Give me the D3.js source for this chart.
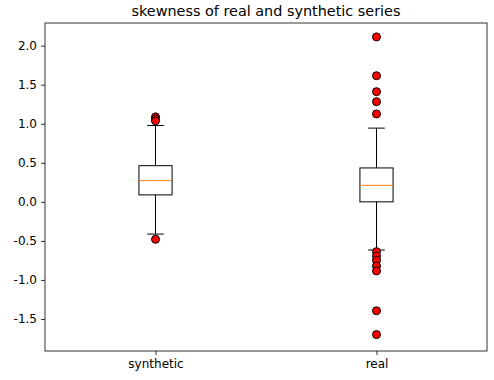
<!DOCTYPE html>
<html><head><meta charset="utf-8">
<script src="https://cdn.jsdelivr.net/npm/d3@7"></script>
<style>body{margin:0;background:#fff}svg{display:block}text{font-family:"DejaVu Sans",sans-serif}</style>
</head><body>
<script>
const categories = ["synthetic", "real"];
const q1 = [0.089, 0.0];
const medians = [0.272, 0.212];
const q3 = [0.463, 0.434];
const whiskerLow = [-0.413, -0.617];
const whiskerHigh = [0.977, 0.944];
const outliersSynthetic = [1.088, 1.063, 1.037, -0.48];
const outliersReal = [2.112, 1.615, 1.411, 1.283, 1.126, -0.638, -0.694, -0.749, -0.821, -0.885, -1.395, -1.70];
const outliers = [outliersSynthetic, outliersReal];
const yTicks = [-1.5, -1.0, -0.5, 0.0, 0.5, 1.0, 1.5, 2.0];
const title = "skewness of real and synthetic series";

const W = 494, H = 380;
const m = {left: 45, right: 7, top: 23, bottom: 29};
const svg = d3.select("body").append("svg").attr("width", W).attr("height", H);

const x = d3.scaleLinear().domain([0.5, 2.5]).range([m.left, W - m.right]);
const y = d3.scaleLinear().domain([-1.91, 2.29]).range([H - m.bottom, m.top]);

const boxW = x(0.15) - x(0);
const capW = boxW / 2;

const g = svg.append("g");

categories.forEach((c, i) => {
  const cx = x(i + 1);
  g.append("line").attr("x1", cx).attr("x2", cx).attr("y1", y(q3[i])).attr("y2", y(whiskerHigh[i]))
    .attr("stroke", "#000").attr("stroke-width", 1);
  g.append("line").attr("x1", cx).attr("x2", cx).attr("y1", y(q1[i])).attr("y2", y(whiskerLow[i]))
    .attr("stroke", "#000").attr("stroke-width", 1);
  [whiskerHigh[i], whiskerLow[i]].forEach(v => {
    g.append("line").attr("x1", cx - capW / 2).attr("x2", cx + capW / 2).attr("y1", y(v)).attr("y2", y(v))
      .attr("stroke", "#000").attr("stroke-width", 1);
  });
  g.append("rect").attr("x", cx - boxW / 2).attr("y", y(q3[i])).attr("width", boxW)
    .attr("height", y(q1[i]) - y(q3[i])).attr("fill", "none").attr("stroke", "#000").attr("stroke-width", 1);
  g.append("line").attr("x1", cx - boxW / 2).attr("x2", cx + boxW / 2).attr("y1", y(medians[i])).attr("y2", y(medians[i]))
    .attr("stroke", "#ff7f0e").attr("stroke-width", 1);
  g.selectAll(null).data(outliers[i]).enter().append("circle")
    .attr("cx", cx).attr("cy", d => y(d)).attr("r", 4)
    .attr("fill", "#ff0000").attr("stroke", "#000").attr("stroke-width", 1);
});

const yAxis = d3.axisLeft(y).tickValues(yTicks).tickSize(4).tickPadding(4);
const ya = svg.append("g").attr("transform", `translate(${m.left},0)`).call(yAxis);
const xAxis = d3.axisBottom(x).tickValues([1, 2]).tickFormat((d) => categories[d - 1]).tickSize(4).tickPadding(4);
const xa = svg.append("g").attr("transform", `translate(0,${H - m.bottom})`).call(xAxis);
[ya, xa].forEach(a => {
  a.select(".domain").remove();
  a.selectAll("text").attr("font-size", 12).attr("fill", "#000").attr("font-family", "DejaVu Sans");
  a.selectAll("line").attr("stroke", "#000").attr("stroke-width", 0.8);
});
ya.selectAll("text").text(d => d3.format(".1f")(d).replace("−", "-"));

svg.append("rect").attr("x", m.left).attr("y", m.top).attr("width", W - m.right - m.left)
  .attr("height", H - m.bottom - m.top).attr("fill", "none").attr("stroke", "#000").attr("stroke-width", 0.8);

svg.append("text").attr("x", (m.left + W - m.right) / 2).attr("y", 16).attr("text-anchor", "middle")
  .attr("font-size", 14.4).attr("fill", "#000").text(title);
</script>
</body></html>
